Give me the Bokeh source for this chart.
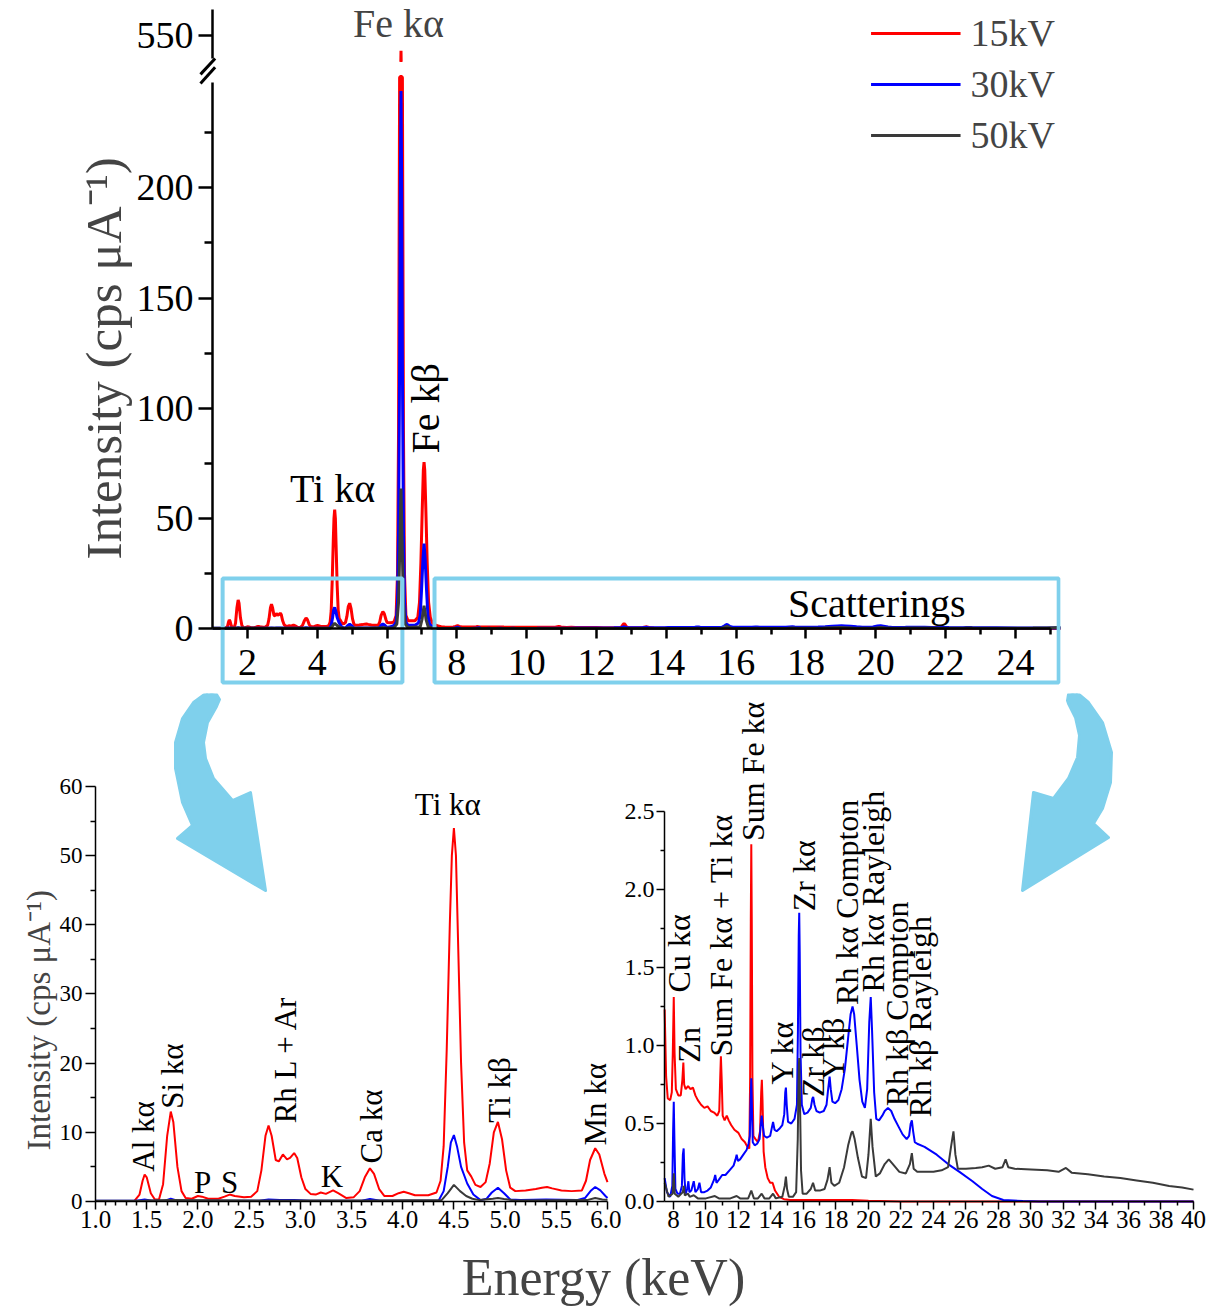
import numpy as np
from bokeh.plotting import figure
from bokeh.models import (Range1d, LinearAxis, FixedTicker, Label, Legend, LegendItem,
                          PrintfTickFormatter)
from bokeh.layouts import column, row
from bokeh.embed import file_html
from bokeh.resources import INLINE

FONT = "Liberation Serif"
RED = "#FF0000"
BLUE = "#0000FF"
GRAY = "#3A3A3A"
SKY = "#7FD0EC"

# ---------------- data (energy keV, intensity cps/uA) ----------------
E15 = [1.38, 1.43, 1.46, 1.48, 1.50, 1.54, 1.58, 1.62, 1.66, 1.70, 1.735, 1.76, 1.80, 1.84, 1.88,
       1.94, 2.00, 2.04, 2.10, 2.20, 2.26, 2.31, 2.36, 2.45, 2.52, 2.58, 2.62, 2.66, 2.69, 2.72,
       2.76, 2.79, 2.83, 2.87, 2.90, 2.94, 2.97, 3.01, 3.05, 3.10, 3.15, 3.20, 3.25, 3.32, 3.37,
       3.45, 3.52, 3.58, 3.63, 3.68, 3.72, 3.77, 3.82, 3.90, 3.96, 4.01, 4.06, 4.12, 4.25, 4.33,
       4.37, 4.40, 4.43, 4.46, 4.48, 4.50, 4.52, 4.54, 4.57, 4.60, 4.63, 4.67, 4.71, 4.76, 4.81,
       4.85, 4.89, 4.93, 4.97, 5.01, 5.05, 5.10, 5.20, 5.30, 5.36, 5.41, 5.46, 5.55, 5.65, 5.75,
       5.79, 5.83, 5.88, 5.92, 5.97, 6.00, 6.10, 6.20, 6.26, 6.30, 6.33, 6.36, 6.38, 6.39, 6.395,
       6.40, 6.405, 6.41, 6.42, 6.44, 6.47, 6.50, 6.54, 6.60, 6.70, 6.80, 6.88, 6.93, 6.97, 7.01,
       7.04, 7.06, 7.08, 7.11, 7.15, 7.19, 7.24, 7.30, 7.38, 7.46, 7.55, 7.65, 7.80, 7.90, 7.96,
       8.02, 8.07, 8.15, 8.30, 8.45, 8.55, 8.61, 8.66, 8.75, 8.90, 9.05, 9.20, 9.35, 9.50, 9.70,
       9.90, 10.10, 10.30, 10.50, 10.70, 10.82, 10.88, 10.92, 10.97, 11.03, 11.15, 11.28, 11.40,
       11.55, 11.75, 12.00, 12.20, 12.40, 12.55, 12.67, 12.72, 12.76, 12.79, 12.82, 12.86, 12.92,
       13.05, 13.20, 13.33, 13.40, 13.44, 13.48, 13.55, 13.65, 13.80, 13.95, 14.10, 14.25, 14.50,
       14.80, 15.20, 17.00, 19.00, 20.00, 22.00, 40.00]
I15 = [0.1, 1.0, 3.0, 3.9, 3.5, 1.2, 0.3, 0.3, 2.5, 9.5, 13.0, 11.5, 5.0, 1.5, 0.5,
       0.4, 0.8, 0.7, 0.4, 0.4, 0.7, 1.0, 0.8, 0.6, 0.7, 1.5, 4.5, 9.5, 11.0, 9.5,
       6.0, 5.8, 6.8, 6.1, 6.3, 7.0, 6.3, 3.5, 1.8, 1.1, 1.0, 1.3, 1.1, 1.6, 1.2,
       0.5, 0.6, 1.5, 3.5, 4.8, 4.0, 1.8, 0.8, 0.8, 1.2, 1.4, 1.2, 0.9, 0.9, 1.3,
       3.0, 8.0, 22.0, 40.0, 50.0, 54.0, 50.0, 38.0, 20.0, 8.5, 4.5, 3.6, 2.4, 2.1, 2.8,
       5.5, 10.0, 11.5, 9.0, 4.5, 2.0, 1.5, 1.6, 1.8, 2.0, 2.1, 1.9, 1.6, 1.5, 1.6,
       3.0, 6.0, 7.7, 6.8, 4.0, 2.8, 2.6, 3.0, 6.0, 25.0, 90.0, 250.0, 420.0, 500.0, 538.0,
       543.0, 538.0, 500.0, 420.0, 250.0, 90.0, 25.0, 6.0, 3.6, 3.5, 3.6, 5.0, 12.0, 30.0, 55.0,
       72.0, 75.5, 72.0, 55.0, 30.0, 12.0, 5.0, 2.5, 1.6, 1.23, 0.80, 0.66, 0.65, 0.70, 0.95,
       1.31, 0.95, 0.72, 0.68, 0.68, 0.78, 0.89, 0.75, 0.72, 0.74, 0.72, 0.73, 0.68, 0.65, 0.62,
       0.60, 0.61, 0.58, 0.57, 0.55, 0.58, 0.80, 0.93, 0.78, 0.55, 0.52, 0.55, 0.52,
       0.49, 0.46, 0.44, 0.40, 0.38, 0.35, 0.34, 0.80, 1.80, 2.29, 1.80, 0.80, 0.42,
       0.40, 0.38, 0.45, 0.70, 0.78, 0.65, 0.32, 0.22, 0.15, 0.12, 0.12, 0.07, 0.03,
       0.015, 0.01, 0.01, 0.01, 0.005, 0.0, 0.0]

E30 = [1.00, 1.40, 1.48, 1.55, 1.68, 1.735, 1.80, 2.60, 2.69, 2.80, 2.94, 3.10, 3.60, 3.68, 3.78,
       4.35, 4.40, 4.44, 4.47, 4.50, 4.53, 4.57, 4.63, 4.69, 4.76, 4.82, 4.87, 4.93, 4.99, 5.05,
       5.15, 5.40, 5.70, 5.78, 5.84, 5.88, 5.93, 5.98, 6.00, 6.10, 6.20, 6.26, 6.30, 6.33, 6.36,
       6.38, 6.40, 6.42, 6.44, 6.47, 6.50, 6.54, 6.60, 6.80, 6.90, 6.95, 6.99, 7.03, 7.06, 7.09,
       7.13, 7.17, 7.22, 7.30, 7.40, 7.46, 7.60, 7.80, 7.93, 7.98, 8.02, 8.06, 8.12, 8.25, 8.40,
       8.52, 8.58, 8.63, 8.68, 8.75, 8.85, 8.92, 8.98, 9.10, 9.25, 9.35, 9.50, 9.60, 9.70, 9.90,
       10.10, 10.30, 10.50, 10.57, 10.65, 10.80, 11.00, 11.20, 11.45, 11.70, 11.82, 11.89, 11.97,
       12.10, 12.30, 12.50, 12.62, 12.70, 12.75, 12.79, 12.83, 12.88, 13.00, 13.15, 13.30, 13.38,
       13.43, 13.48, 13.58, 13.75, 13.95, 14.05, 14.13, 14.22, 14.35, 14.55, 14.70, 14.82, 14.88,
       14.92, 14.97, 15.05, 15.25, 15.45, 15.60, 15.66, 15.71, 15.74, 15.77, 15.82, 15.90, 16.05,
       16.25, 16.45, 16.55, 16.60, 16.68, 16.80, 17.00, 17.25, 17.42, 17.52, 17.61, 17.68, 17.78,
       17.95, 18.15, 18.35, 18.55, 18.75, 18.90, 19.02, 19.12, 19.28, 19.45, 19.62, 19.78, 19.92,
       20.05, 20.14, 20.22, 20.35, 20.48, 20.65, 20.85, 21.00, 21.20, 21.40, 21.60, 21.85, 22.10,
       22.35, 22.50, 22.60, 22.67, 22.75, 22.85, 23.00, 23.45, 24.20, 24.90, 25.60, 26.40, 27.00,
       27.60, 28.30, 29.50, 30.50, 40.00]
I30 = [0.1, 0.1, 0.3, 0.1, 0.1, 0.4, 0.1, 0.1, 0.3, 0.2, 0.2, 0.1, 0.1, 0.35, 0.1,
       0.1, 1.5, 5.0, 8.5, 9.6, 8.0, 5.0, 2.6, 1.0, 0.2, 0.4, 1.3, 2.0, 1.2, 0.3,
       0.2, 0.3, 0.2, 0.5, 1.6, 2.1, 1.6, 0.8, 0.5, 0.8, 1.5, 3.0, 12.0, 45.0, 120.0,
       200.0, 244.0, 200.0, 120.0, 45.0, 12.0, 3.0, 1.5, 1.5, 2.5, 6.0, 18.0, 32.0, 38.6, 32.0,
       18.0, 6.0, 2.0, 0.8, 0.3, 0.15, 0.06, 0.03, 0.10, 0.45, 0.64, 0.40, 0.08, 0.05, 0.05,
       0.10, 0.30, 0.34, 0.15, 0.05, 0.08, 0.13, 0.06, 0.07, 0.13, 0.06, 0.08, 0.12, 0.06, 0.06,
       0.07, 0.09, 0.14, 0.17, 0.12, 0.14, 0.17, 0.17, 0.20, 0.23, 0.27, 0.30, 0.26,
       0.27, 0.30, 0.33, 0.37, 0.42, 0.65, 0.79, 0.60, 0.38, 0.36, 0.37, 0.40, 0.50,
       0.55, 0.50, 0.42, 0.41, 0.42, 0.47, 0.51, 0.46, 0.45, 0.47, 0.49, 0.56, 0.70,
       0.73, 0.62, 0.51, 0.50, 0.53, 0.62, 1.10, 1.70, 1.85, 1.60, 0.95, 0.62, 0.56,
       0.57, 0.60, 0.66, 0.67, 0.62, 0.58, 0.57, 0.58, 0.62, 0.72, 0.80, 0.72, 0.64,
       0.63, 0.65, 0.72, 0.85, 1.05, 1.20, 1.25, 1.20, 1.00, 0.78, 0.64, 0.60, 0.72,
       1.15, 1.31, 1.10, 0.70, 0.53, 0.52, 0.55, 0.58, 0.60, 0.58, 0.53, 0.48, 0.43,
       0.40, 0.42, 0.50, 0.52, 0.45, 0.38, 0.37, 0.35, 0.30, 0.24, 0.19, 0.13, 0.08,
       0.035, 0.01, 0.003, 0.0, 0.0]

E50 = [1.00, 1.48, 1.735, 2.69, 3.68, 4.38, 4.44, 4.50, 4.56, 4.62, 4.68, 4.75, 4.88, 4.93, 4.99,
       5.10, 5.80, 5.88, 5.95, 6.00, 6.20, 6.28, 6.33, 6.37, 6.40, 6.43, 6.47, 6.52, 6.60, 6.95,
       7.00, 7.06, 7.12, 7.18, 7.30, 7.46, 7.70, 7.95, 8.02, 8.08, 8.30, 8.58, 8.63, 8.70, 8.90,
       9.00, 9.25, 9.50, 10.00, 10.55, 10.80, 11.50, 11.89, 12.10, 12.60, 12.79, 12.95, 13.20,
       13.43, 13.60, 13.90, 14.13, 14.30, 14.70, 14.85, 14.92, 14.99, 15.10, 15.35, 15.55, 15.65,
       15.71, 15.74, 15.78, 15.85, 15.95, 16.20, 16.45, 16.59, 16.72, 17.00, 17.30, 17.48, 17.61,
       17.72, 17.90, 18.20, 18.50, 18.75, 18.95, 19.02, 19.15, 19.35, 19.60, 19.85, 20.00, 20.14,
       20.25, 20.45, 20.70, 21.00, 21.25, 21.50, 21.90, 22.30, 22.55, 22.67, 22.78, 23.00, 23.50,
       24.00, 24.50, 24.90, 25.08, 25.23, 25.35, 25.50, 26.00, 26.60, 27.00, 27.40, 27.80, 28.25,
       28.44, 28.60, 29.00, 30.00, 31.00, 31.70, 32.15, 32.50, 33.50, 34.50, 35.50, 36.50, 37.50,
       38.50, 39.30, 40.00]
I50 = [0.1, 0.15, 0.2, 0.15, 0.15, 0.2, 1.2, 2.4, 1.5, 0.8, 0.4, 0.2, 0.4, 0.5, 0.35,
       0.15, 0.2, 0.5, 0.3, 0.25, 0.4, 2.0, 12.0, 40.0, 63.5, 40.0, 12.0, 2.0, 0.5, 0.8,
       4.0, 10.4, 4.0, 0.8, 0.2, 0.12, 0.03, 0.05, 0.18, 0.05, 0.03, 0.06, 0.10, 0.04, 0.05,
       0.03, 0.04, 0.02, 0.02, 0.035, 0.02, 0.02, 0.035, 0.02, 0.02, 0.07, 0.02, 0.02,
       0.05, 0.02, 0.02, 0.05, 0.02, 0.03, 0.10, 0.16, 0.08, 0.03, 0.03, 0.06, 0.40,
       0.85, 0.92, 0.70, 0.20, 0.05, 0.05, 0.08, 0.12, 0.07, 0.07, 0.08, 0.14, 0.22,
       0.12, 0.10, 0.12, 0.22, 0.36, 0.44, 0.45, 0.40, 0.28, 0.16, 0.15, 0.30, 0.53,
       0.35, 0.16, 0.18, 0.24, 0.27, 0.24, 0.19, 0.18, 0.24, 0.31, 0.21, 0.19, 0.19,
       0.19, 0.20, 0.22, 0.35, 0.45, 0.30, 0.21, 0.21, 0.215, 0.22, 0.23, 0.21, 0.22,
       0.27, 0.22, 0.21, 0.205, 0.20, 0.19, 0.215, 0.185, 0.175, 0.16, 0.15, 0.135, 0.12,
       0.10, 0.09, 0.076]

SERIES = [("15kV", E15, I15, RED), ("30kV", E30, I30, BLUE), ("50kV", E50, I50, GRAY)]

# peak annotations
TOP_LABELS = [("Ti kα", 4.44, 63.5, 0.0), ("Fe kβ", 7.10, 79.4, np.pi / 2), ("Scatterings", 20.03, 11.3, 0.0)]
BL_LABELS = [("Al kα", 1.47, 4.3, True), ("Si kα", 1.75, 13.4, True), ("P", 2.045, 2.75, False),
             ("S", 2.31, 2.75, False), ("Rh L + Ar", 2.855, 11.3, True), ("K", 3.31, 3.6, False),
             ("Ca kα", 3.70, 5.5, True), ("Ti kα", 4.44, 57.4, False), ("Ti kβ", 4.95, 11.4, True),
             ("Mn kα", 5.88, 8.1, True)]
BR_LABELS = [("Cu kα", 8.36, 1.34), ("Zn", 8.97, 0.89), ("Sum Fe kα + Ti kα", 10.92, 0.93),
             ("Sum Fe kα", 12.87, 2.31), ("Y kα", 14.69, 0.75), ("Zr kα", 16.03, 1.86),
             ("Zr kβ", 16.56, 0.67), ("Y kβ", 17.80, 0.78), ("Rh  kα Compton", 18.70, 1.26),
             ("Rh  kα Rayleigh", 20.29, 1.34), ("Rh  kβ Compton", 21.75, 0.61),
             ("Rh  kβ Rayleigh", 23.20, 0.54)]

# zoom boxes on the overview (left, right, bottom, top)
BOX_L = [1.29, 7.36]
BOX_R = [6.44, 25.24]
BOX_B = [-24.5, -24.5]
BOX_T = [22.7, 22.7]

# broken y axis of the overview: lower part 0..248, upper part shows 539.6..561.8
Y_CAP = 250.5
Y_BRK = 538.0
BREAK_SHIFT = 280.82          # upper values are drawn at (value - BREAK_SHIFT)
UPPER_TICK = 550.0


def style_axis(ax, size, tick_out, minor_out, lw):
    ax.major_label_text_font = FONT
    ax.major_label_text_font_size = size
    ax.major_label_text_color = "black"
    ax.axis_line_width = lw
    ax.axis_line_color = "black"
    ax.major_tick_line_width = lw
    ax.minor_tick_line_width = lw
    ax.major_tick_line_color = "black"
    ax.minor_tick_line_color = "black"
    ax.major_tick_in = 0
    ax.major_tick_out = tick_out
    ax.minor_tick_in = 0
    ax.minor_tick_out = minor_out
    ax.axis_label_text_font = FONT
    ax.axis_label_text_font_style = "normal"
    ax.axis_label_text_color = "black"


# ---------------- top overview ----------------
TOP_PX = 34.909                       # pixels per keV
TOP_X0 = 1.0 - 212 / TOP_PX
top = figure(width=1221, height=690, output_backend="svg", toolbar_location=None,
             x_range=Range1d(TOP_X0, 25.292), y_range=Range1d(-27.2, 282.3),
             min_border_left=0, min_border_right=161, min_border_top=6, min_border_bottom=2)
top.grid.visible = False
top.outline_line_color = None

xa = top.xaxis[0]
xa.fixed_location = 0
xa.bounds = (1, 25)
xa.ticker = FixedTicker(ticks=list(range(2, 25, 2)), minor_ticks=list(range(3, 26, 2)))
style_axis(xa, "38px", 10, 6, 2.5)
xa.major_label_standoff = 11

ya = top.yaxis[0]
ya.fixed_location = 1.0
ya.bounds = (0, 248)
ya.ticker = FixedTicker(ticks=[0, 50, 100, 150, 200], minor_ticks=[25, 75, 125, 175, 225])
style_axis(ya, "38px", 14, 8, 2.5)
ya.major_label_standoff = 5

up_tick = UPPER_TICK - BREAK_SHIFT
yb = LinearAxis(fixed_location=1.0, bounds=(539.6 - BREAK_SHIFT, 561.8 - BREAK_SHIFT),
                ticker=FixedTicker(ticks=[up_tick], minor_ticks=[]),
                major_label_overrides={up_tick: "550"})
style_axis(yb, "38px", 14, 8, 2.5)
yb.major_label_standoff = 5
top.add_layout(yb, "left")

legend_items = []
for name, E, I, c in SERIES:
    y = np.array(I, dtype=float)
    r = top.line(E, np.minimum(y, Y_CAP), color=c, line_width=3)
    top.line(E, np.where(y >= Y_BRK, y - BREAK_SHIFT, np.nan), color=c, line_width=3)
    legend_items.append(LegendItem(label=name, renderers=[r]))

top.quad(left=BOX_L, right=BOX_R, bottom=BOX_B, top=BOX_T, fill_color=None,
         line_color=SKY, line_width=4)

# axis break marks
top.segment(x0=[0.656, 0.656], y0=[247.4, 251.5], x1=[1.075, 1.075], y1=[254.7, 258.7],
            line_color="black", line_width=3)

for txt, x, y, ang in TOP_LABELS:
    top.add_layout(Label(x=x, y=y, text=txt, angle=ang, text_font=FONT, text_font_size="40px",
                         text_align="left" if ang else "center", text_baseline="middle",
                         text_color="black"))
top.add_layout(Label(x=6.33, y=555.4 - BREAK_SHIFT, text="Fe kα", text_font=FONT,
                     text_font_size="40px", text_align="center", text_baseline="middle"))
top.add_layout(Label(x=-2.094, y=122.6, text="Intensity (cps μA⁻¹)", angle=np.pi / 2,
                     text_font=FONT, text_font_size="51px", text_align="center",
                     text_baseline="middle"))

leg = Legend(items=legend_items, location="top_right", label_text_font=FONT,
             label_text_font_size="38px", glyph_width=90, glyph_height=40, label_height=40,
             label_standoff=10, spacing=7, padding=0, margin=5,
             border_line_alpha=0, background_fill_alpha=0)
top.add_layout(leg)

# ---------------- bottom panels: both frames span page y 693..1245 ----------------
ROW_H = 555
FRAME_H = ROW_H - 3

# bottom left zoom: axes 1..6 keV (px 95..607), 0..60 (px 1201..786)
BL_X = (1.0, 6.0)
BL_Y = (0.0, 73.44)
BL_PXX = 102.4
BL_PXY = 508 / 73.44
bl = figure(width=621, height=ROW_H, output_backend="svg", toolbar_location=None,
            x_range=Range1d(1.0 - 95 / BL_PXX, 6.0 + 14 / BL_PXX),
            y_range=Range1d(BL_Y[1] - FRAME_H / BL_PXY, BL_Y[1]),
            min_border_left=0, min_border_right=0, min_border_top=3, min_border_bottom=0)
bl.grid.visible = False
bl.outline_line_color = None
bx = bl.xaxis[0]
bx.fixed_location = 0
bx.bounds = (1, 6)
bx.ticker = FixedTicker(ticks=[1 + 0.5 * i for i in range(11)],
                        minor_ticks=[round(1 + 0.1 * i, 1) for i in range(51) if i % 5])
bx.formatter = PrintfTickFormatter(format="%.1f")
style_axis(bx, "25px", 8, 4, 1.5)
bx.major_label_standoff = 1
by = bl.yaxis[0]
by.fixed_location = 1.0
by.bounds = (0, 60)
by.ticker = FixedTicker(ticks=[0, 10, 20, 30, 40, 50, 60], minor_ticks=[5, 15, 25, 35, 45, 55])
style_axis(by, "23px", 10, 5, 1.5)
by.major_label_standoff = 3

for name, E, I, c in SERIES:
    m = np.array(E) <= BL_X[1]
    bl.line(np.array(E)[m], np.array(I)[m], color=c, line_width=2)

for txt, x, y, vert in BL_LABELS:
    bl.add_layout(Label(x=x, y=y, text=txt, angle=np.pi / 2 if vert else 0.0, text_font=FONT,
                        text_font_size="31px", text_align="left" if vert else "center",
                        text_baseline="middle", text_color="black"))
bl.add_layout(Label(x=0.4434, y=26.2, text="Intensity (cps μA⁻¹)", angle=np.pi / 2,
                    text_font=FONT, text_font_size="33px", text_align="center",
                    text_baseline="middle"))

# bottom right zoom: axes 7.45..40 keV (px 664..1193), 0..2.5 (px 1201..811)
BR_X = (7.45, 40.0)
BR_Y = (0.0, 3.256)
BR_PXX = 529 / 32.55
BR_PXY = 508 / 3.256
br = figure(width=600, height=ROW_H, output_backend="svg", toolbar_location=None,
            x_range=Range1d(7.45 - 43 / BR_PXX, 40.0 + 28 / BR_PXX),
            y_range=Range1d(BR_Y[1] - FRAME_H / BR_PXY, BR_Y[1]),
            min_border_left=0, min_border_right=0, min_border_top=3, min_border_bottom=0)
br.grid.visible = False
br.outline_line_color = None
rx = br.xaxis[0]
rx.fixed_location = 0
rx.bounds = (7.45, 40)
rx.ticker = FixedTicker(ticks=list(range(8, 41, 2)), minor_ticks=list(range(9, 40, 2)))
style_axis(rx, "25px", 8, 4, 1.5)
rx.major_label_standoff = 1
ry = br.yaxis[0]
ry.fixed_location = 7.45
ry.bounds = (0, 2.5)
ry.ticker = FixedTicker(ticks=[0, 0.5, 1.0, 1.5, 2.0, 2.5], minor_ticks=[0.25, 0.75, 1.25, 1.75, 2.25])
ry.formatter = PrintfTickFormatter(format="%.1f")
style_axis(ry, "24px", 8, 4, 1.5)
ry.major_label_standoff = 2

for name, E, I, c in SERIES:
    m = np.array(E) >= BR_X[0]
    br.line(np.array(E)[m], np.array(I)[m], color=c, line_width=2)

for txt, x, y in BR_LABELS:
    br.add_layout(Label(x=x, y=y, text=txt, angle=np.pi / 2, text_font=FONT, text_font_size="32px",
                        text_align="left", text_baseline="middle", text_color="black"))

# ---------------- curved arrows (outline in page pixels -> data) ----------------
ARROW_L_PX = [(208, 691), (216, 694), (219, 699), (216, 706), (207, 722), (203, 742), (205, 758),
              (213, 778), (232, 800), (250, 792), (265, 890), (177, 838), (192, 825), (182, 802),
              (175, 768), (175, 742), (182, 718), (193, 702)]
ARROW_R_PX = [(1067, 700), (1068, 694), (1075, 691), (1088, 702), (1102, 722), (1111, 752),
              (1110, 782), (1102, 808), (1093, 823), (1108, 837), (1022, 890), (1033, 792),
              (1053, 798), (1068, 778), (1077, 757), (1079, 735), (1075, 717), (1068, 703)]


def px_to_data(pts, fx0, fx1, fy_top, fy_bot, xr, yr):
    xs = [xr[0] + (px - fx0) / (fx1 - fx0) * (xr[1] - xr[0]) for px, py in pts]
    ys = [yr[0] + (fy_bot - py) / (fy_bot - fy_top) * (yr[1] - yr[0]) for px, py in pts]
    return xs, ys


axl, ayl = px_to_data(ARROW_L_PX, 95, 607, 693, 1201, BL_X, BL_Y)
bl.patch(axl, ayl, fill_color=SKY, line_color=SKY, line_width=3, line_join="round")
axr, ayr = px_to_data(ARROW_R_PX, 664, 1193, 693, 1201, BR_X, BR_Y)
br.patch(axr, ayr, fill_color=SKY, line_color=SKY, line_width=3, line_join="round")

# ---------------- shared x label (frame aligned with the overview frame: 0..1060 px) ----------------
EF_H = 1308 - 690 - ROW_H
ef = figure(width=1221, height=EF_H, output_backend="svg", toolbar_location=None,
            x_range=Range1d(0, 1060), y_range=Range1d(0, EF_H), x_axis_type=None, y_axis_type=None,
            min_border=0, min_border_left=0, min_border_right=161, min_border_top=0,
            min_border_bottom=0)
ef.grid.visible = False
ef.outline_line_color = None
ef.add_layout(Label(x=603, y=EF_H - 32, text="Energy (keV)", text_font=FONT, text_font_size="52px",
                    text_align="center", text_baseline="middle"))

layout = column(top, row(bl, br), ef)
open("out.html", "w").write(file_html(layout, INLINE))
